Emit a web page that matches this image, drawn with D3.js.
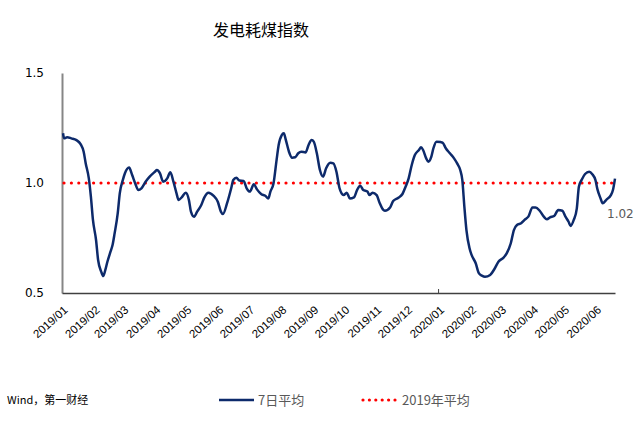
<!DOCTYPE html>
<html>
<head>
<meta charset="utf-8">
<script src="https://cdn.jsdelivr.net/npm/d3@7"></script>
<style>
  html, body { margin: 0; padding: 0; background: #fff; }
  svg { display: block; }
</style>
</head>
<body>
<svg id="chart" width="639" height="425"></svg>
<script>
// ---- data ----
const titleText = "发电耗煤指数";
const startDate = "2019-01-01";            // day offsets below count from this date
const dayOffsets = [
  1, 2, 5, 9, 14, 18, 21, 23, 26, 28, 30, 33, 35, 38, 40, 42, 44, 47, 49, 51,
  54, 56, 59, 61, 65, 68, 71, 74, 77, 81, 85, 90, 92, 95, 98, 102, 105, 108, 111, 113,
  116, 120, 123, 125, 128, 131, 135, 138, 142, 147, 151, 154, 156, 160, 164, 166, 169, 172, 176, 179,
  182, 186, 189, 193, 197, 200, 202, 205, 208, 210, 213, 215, 217, 220, 223, 226, 229, 232, 236, 239,
  242, 244, 247, 250, 253, 256, 260, 263, 266, 269, 271, 273, 276, 279, 283, 286, 289, 292, 296, 298,
  301, 305, 308, 311, 313, 318, 321, 326, 330, 333, 336, 339, 342, 346, 348, 350, 353, 355, 358, 360,
  363, 367, 369, 372, 376, 380, 383, 386, 388, 390, 392, 395, 397, 401, 404, 407, 410, 415, 419, 423,
  428, 431, 435, 438, 441, 445, 449, 452, 456, 459, 463, 467, 470, 473, 477, 481, 485, 488, 491, 493,
  496, 499, 501, 504, 507, 511, 514, 517, 519, 522, 524, 528, 532, 534, 536
];
const avg7 = [
  1.226, 1.203, 1.208, 1.203, 1.195, 1.177, 1.142, 1.089, 1.021, 0.938, 0.832, 0.741, 0.650, 0.597, 0.577, 0.605, 0.642, 0.688, 0.718, 0.771,
  0.862, 0.953, 1.014, 1.044, 1.070, 1.036, 0.998, 0.968, 0.976, 1.006, 1.029, 1.051, 1.059, 1.044, 1.006, 1.021, 1.049, 1.006, 0.953, 0.923,
  0.935, 0.956, 0.923, 0.870, 0.847, 0.870, 0.900, 0.935, 0.956, 0.941, 0.915, 0.870, 0.859, 0.908, 0.976, 1.014, 1.024, 1.011, 1.009, 0.976,
  0.961, 0.994, 0.971, 0.950, 0.942, 0.930, 0.961, 0.998, 1.105, 1.173, 1.218, 1.226, 1.195, 1.142, 1.115, 1.117, 1.135, 1.142, 1.139, 1.173,
  1.195, 1.188, 1.135, 1.059, 1.029, 1.067, 1.092, 1.089, 1.051, 0.976, 0.953, 0.945, 0.956, 0.930, 0.935, 0.968, 0.988, 0.968, 0.961, 0.945,
  0.956, 0.945, 0.908, 0.880, 0.874, 0.889, 0.918, 0.933, 0.950, 0.983, 1.021, 1.082, 1.127, 1.150, 1.162, 1.150, 1.112, 1.097, 1.120, 1.158,
  1.188, 1.186, 1.183, 1.158, 1.135, 1.112, 1.089, 1.059, 1.014, 0.892, 0.786, 0.703, 0.673, 0.635, 0.590, 0.579, 0.574, 0.582, 0.608, 0.642,
  0.661, 0.680, 0.726, 0.786, 0.809, 0.817, 0.835, 0.847, 0.889, 0.889, 0.874, 0.847, 0.835, 0.844, 0.850, 0.877, 0.874, 0.847, 0.824, 0.805,
  0.832, 0.885, 0.983, 1.017, 1.041, 1.051, 1.040, 1.014, 0.971, 0.930, 0.908, 0.926, 0.945, 0.968, 1.020
];
const avg2019 = 1.0;
const monthLabels = ["2019/01","2019/02","2019/03","2019/04","2019/05","2019/06","2019/07","2019/08","2019/09",
  "2019/10","2019/11","2019/12","2020/01","2020/02","2020/03","2020/04","2020/05","2020/06"];
const yTickValues = [0.5, 1.0, 1.5];
const seriesNames = ["7日平均", "2019年平均"];
const sourceText = "Wind，第一财经";
const lastLabel = "1.02";

// ---- drawing ----
const svg = d3.select("#chart");
const lineColor = "#0d2a6b";
const dotColor = "#ff0000";
const grayText = "#595959";

const t0 = d3.timeParse("%Y-%m-%d")(startDate);
const data = dayOffsets.map((d, i) => ({ date: d3.timeDay.offset(t0, d), value: avg7[i] }));

const x = d3.scaleTime()
  .domain([t0, data[data.length - 1].date])
  .range([62, 615]);
const y = d3.scaleLinear().domain([0.5, 1.5]).range([293, 73]);

// title
svg.append("text")
  .attr("x", 261).attr("y", 36)
  .attr("text-anchor", "middle")
  .attr("font-family", "Noto Sans CJK SC, sans-serif")
  .attr("font-size", 16)
  .attr("fill", "#000")
  .text(titleText);

// y axis
const yAxis = d3.axisLeft(y).tickValues(yTickValues).tickFormat(d3.format(".1f")).tickSize(0).tickPadding(18);
const gy = svg.append("g").attr("transform", "translate(62,0)").call(yAxis);
gy.select(".domain").attr("stroke", "#868686").attr("stroke-width", 2);
gy.selectAll("text").attr("font-family", "DejaVu Sans, sans-serif").attr("font-size", 12).attr("fill", "#000");

// x axis
const parseMonth = d3.timeParse("%Y/%m");
const monthDates = monthLabels.map(parseMonth);
const xAxis = d3.axisBottom(x).tickValues(monthDates).tickFormat(d3.timeFormat("%Y/%m")).tickSize(0);
const gx = svg.append("g").attr("transform", "translate(0,293)").call(xAxis);
gx.select(".domain").attr("stroke", "#404040").attr("stroke-width", 1.5);
gx.selectAll("text")
  .attr("font-family", "Liberation Sans, sans-serif")
  .attr("font-size", 11.5)
  .attr("fill", "#000")
  .attr("text-anchor", "end")
  .attr("dy", 0)
  .attr("y", 0)
  .attr("transform", "translate(6,18) rotate(-42)");
// small tick at the year boundary
svg.append("line")
  .attr("x1", x(parseMonth("2020/01"))).attr("x2", x(parseMonth("2020/01")))
  .attr("y1", 289).attr("y2", 293)
  .attr("stroke", "#404040").attr("stroke-width", 1);

// 2019 average dotted line
svg.append("line")
  .attr("x1", x.range()[0] + 2).attr("x2", x.range()[1])
  .attr("y1", y(avg2019)).attr("y2", y(avg2019))
  .attr("stroke", dotColor).attr("stroke-width", 3.2)
  .attr("stroke-linecap", "round")
  .attr("stroke-dasharray", "0 7.4");

// 7-day average line
const line = d3.line().x(d => x(d.date)).y(d => y(d.value)).curve(d3.curveMonotoneX);
svg.append("path")
  .datum(data)
  .attr("fill", "none")
  .attr("stroke", lineColor)
  .attr("stroke-width", 2.5)
  .attr("stroke-linejoin", "round")
  .attr("d", line);

// last value label
const last = data[data.length - 1];
svg.append("text")
  .attr("x", x(last.date) - 8).attr("y", y(last.value) + 39)
  .attr("font-family", "DejaVu Sans, sans-serif")
  .attr("font-size", 12)
  .attr("fill", grayText)
  .text(lastLabel);

// legend
const lg = svg.append("g");
lg.append("line").attr("x1", 219).attr("x2", 254).attr("y1", 400).attr("y2", 400)
  .attr("stroke", lineColor).attr("stroke-width", 2.4);
lg.append("text").attr("x", 258).attr("y", 405)
  .attr("font-family", "Noto Sans CJK SC, sans-serif").attr("font-size", 13)
  .attr("fill", grayText).text(seriesNames[0]);
lg.append("line").attr("x1", 363).attr("x2", 396).attr("y1", 400).attr("y2", 400)
  .attr("stroke", dotColor).attr("stroke-width", 3.2)
  .attr("stroke-linecap", "round").attr("stroke-dasharray", "0 6.4");
lg.append("text").attr("x", 402).attr("y", 405)
  .attr("font-family", "Noto Sans CJK SC, sans-serif").attr("font-size", 13)
  .attr("fill", grayText).text(seriesNames[1]);

// source
svg.append("text").attr("x", 7).attr("y", 404)
  .attr("font-family", "Noto Sans CJK SC, sans-serif").attr("font-size", 11)
  .attr("fill", "#000").text(sourceText);
</script>
</body>
</html>
